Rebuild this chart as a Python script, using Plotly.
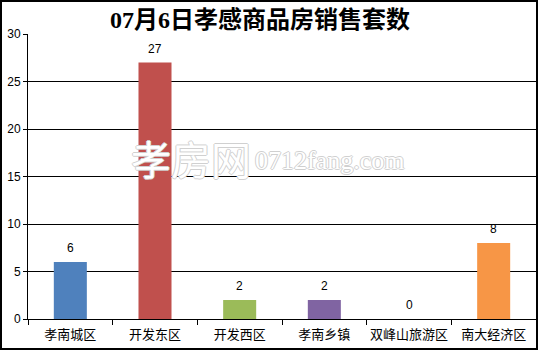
import plotly.graph_objects as go

categories = ["孝南城区", "开发东区", "开发西区", "孝南乡镇", "双峰山旅游区", "南大经济区"]
values = [6, 27, 2, 2, 0, 8]
colors = ["#4F81BD", "#C0504D", "#9BBB59", "#8064A2", "#4BACC6", "#F79646"]
title_text = "07月6日孝感商品房销售套数"
watermark_cn = "孝房网"
watermark_en = "0712fang.com"
y_ticks = [0, 5, 10, 15, 20, 25, 30]

W, H = 539, 351
L, R, T, B = 28, 3, 34, 32
pw, ph = W - L - R, H - T - B

def px_x(x):
    return (x - L) / pw

def px_y(y):
    return (H - B - y) / ph

fig = go.Figure()
fig.add_trace(go.Bar(
    x=categories, y=values, marker=dict(color=colors, line=dict(width=0)),
    width=0.39, hoverinfo="skip",
))

annotations = []
for c, v in zip(categories, values):
    annotations.append(dict(
        x=c, y=v, xref="x", yref="y", text=str(v), showarrow=False,
        yanchor="bottom", yshift=5,
        font=dict(family="Liberation Sans, Arial, sans-serif", size=12, color="#000"),
    ))

# title
annotations.append(dict(
    x=px_x(260), y=px_y(19), xref="paper", yref="paper", text=title_text,
    showarrow=False, xanchor="center", yanchor="middle",
    font=dict(family="Liberation Serif, Noto Sans CJK SC", size=24, color="#000", weight="bold"),
))

shadow = "1px 0 0 #d0d0d0, -1px 0 0 #d0d0d0, 0 1px 0 #d0d0d0, 0 -1px 0 #d0d0d0"
annotations.append(dict(
    x=px_x(253), y=px_y(158), xref="paper", yref="paper", text=watermark_cn,
    showarrow=False, xanchor="right", yanchor="middle",
    font=dict(family="Noto Sans CJK SC", size=40, color="#ffffff", shadow=shadow),
))
annotations.append(dict(
    x=px_x(253), y=px_y(160), xref="paper", yref="paper", text=watermark_en,
    showarrow=False, xanchor="left", yanchor="middle",
    font=dict(family="Liberation Serif", size=26, color="#ffffff", shadow=shadow),
))

shapes = [dict(
    type="rect", xref="paper", yref="paper",
    x0=px_x(1), x1=px_x(537), y0=px_y(1), y1=px_y(349),
    line=dict(color="#000", width=2), fillcolor="rgba(0,0,0,0)", layer="above",
)]

fig.update_layout(
    width=W, height=H,
    margin=dict(l=L, r=R, t=T, b=B, pad=0, autoexpand=False),
    paper_bgcolor="#fff", plot_bgcolor="#fff",
    showlegend=False, bargap=0.61,
    annotations=annotations, shapes=shapes,
    font=dict(family="Noto Sans CJK SC", size=12, color="#000"),
    xaxis=dict(
        showgrid=False, showline=True, linecolor="#000", linewidth=1,
        ticks="outside", tickson="boundaries", ticklen=5, tickcolor="#000",
        tickangle=0, automargin=False, ticklabelstandoff=3,
        tickfont=dict(family="Noto Sans CJK SC", size=13, color="#000"),
        fixedrange=True,
    ),
    yaxis=dict(
        range=[0, 30], tickvals=y_ticks, showgrid=True, gridcolor="#000", gridwidth=1,
        showline=True, linecolor="#000", linewidth=1, zeroline=False,
        ticks="outside", ticklen=4, tickcolor="#000", automargin=False,
        tickfont=dict(family="Liberation Sans, Arial", size=12, color="#000"),
        fixedrange=True,
    ),
)

fig.write_html("out.html", config={"displayModeBar": False})
